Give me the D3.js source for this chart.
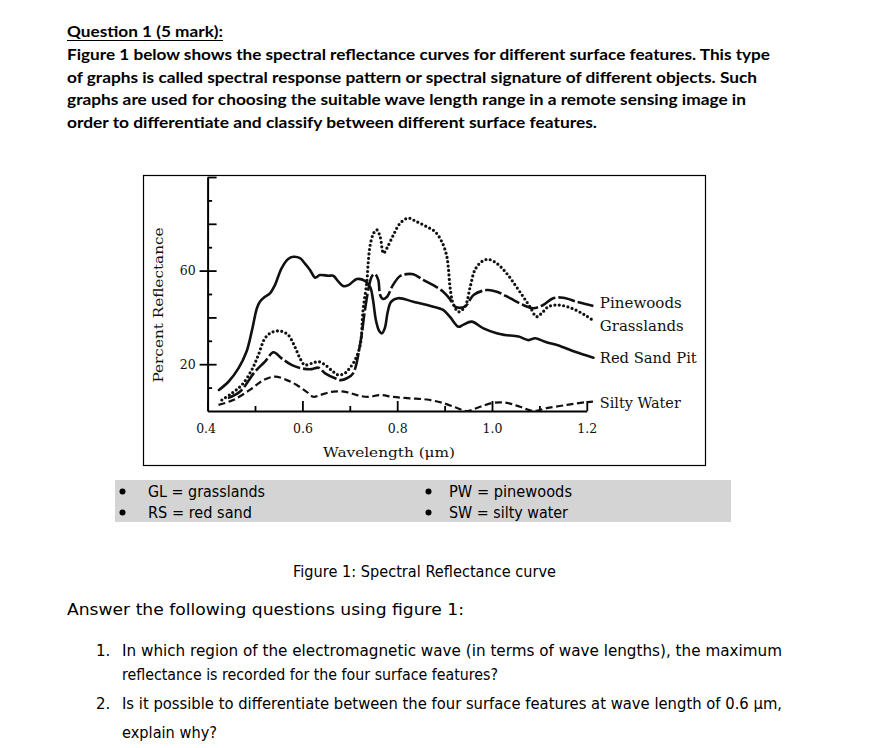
<!DOCTYPE html>
<html><head><meta charset="utf-8">
<script src="https://cdn.jsdelivr.net/npm/d3@7"></script>
<style>body{margin:0;background:#fff}svg{display:block}</style>
</head><body>
<svg id="chart" width="881" height="748"></svg>
<script>
// ---------------- DATA ----------------
const seriesNames = ["Pinewoods", "Grasslands", "Red Sand Pit", "Silty Water"];

const pinewoodsX = [0.443,0.468,0.500,0.521,0.539,0.556,0.577,0.599,0.620,0.634,0.648,0.669,0.681,0.694,0.707,0.722,0.732,0.741,0.747,0.753,0.760,0.764,0.770,0.778,0.791,0.806,0.820,0.834,0.855,0.876,0.897,0.911,0.922,0.943,0.961,0.989,1.010,1.038,1.066,1.087,1.108,1.129,1.150,1.179,1.214];
const pinewoodsY = [5.5,8.2,16.8,21.1,25.1,22.5,19.7,18.2,17.9,18.5,16.1,14.0,13.2,14.0,16.1,28.9,43.2,53.8,57.7,58.5,56.0,49.6,47.9,48.7,53.8,57.7,58.5,58.4,56.0,53.8,51.0,47.9,44.6,44.6,49.6,51.7,51.0,48.2,45.3,43.9,45.3,48.2,48.4,46.7,44.9];

const grasslandsX = [0.430,0.451,0.472,0.493,0.507,0.521,0.535,0.553,0.570,0.584,0.595,0.605,0.620,0.634,0.648,0.665,0.676,0.690,0.700,0.711,0.722,0.728,0.736,0.739,0.743,0.750,0.757,0.764,0.771,0.778,0.792,0.806,0.823,0.841,0.862,0.880,0.894,0.904,0.908,0.911,0.915,0.918,0.929,0.943,0.954,0.964,0.978,0.992,1.010,1.031,1.049,1.066,1.080,1.094,1.105,1.119,1.140,1.168,1.196,1.217];
const grasslandsY = [4.7,7.6,11.1,17.5,23.9,31.1,33.6,34.2,32.5,27.5,22.5,19.7,20.4,21.1,19.7,16.8,15.4,16.2,18.4,21.8,28.2,43.2,55.3,63.8,70.9,75.9,77.4,74.5,67.4,69.5,75.2,80.2,82.4,80.9,78.8,76.6,72.4,66.7,61.0,53.8,48.2,46.0,42.4,44.6,53.1,60.3,63.8,64.8,63.1,58.8,53.8,48.8,44.6,40.3,41.8,44.6,45.3,43.9,41.0,38.2];

const redSandX = [0.424,0.444,0.465,0.482,0.493,0.504,0.510,0.521,0.532,0.542,0.556,0.570,0.581,0.595,0.605,0.616,0.627,0.637,0.655,0.665,0.676,0.686,0.697,0.715,0.732,0.743,0.749,0.755,0.762,0.768,0.774,0.780,0.787,0.802,0.834,0.876,0.897,0.911,0.929,0.939,0.957,0.982,1.010,1.027,1.056,1.077,1.091,1.112,1.147,1.175,1.214];
const redSandY = [9.0,12.5,18.2,25.3,33.9,43.9,46.6,48.8,50.4,53.8,61.0,65.0,65.9,65.3,63.1,60.3,57.0,58.1,57.8,57.8,55.3,53.4,53.8,56.4,55.6,53.0,47.4,38.9,34.2,33.2,35.5,42.3,46.6,48.2,46.7,44.6,43.2,40.3,36.0,36.8,38.2,35.3,33.2,32.5,31.8,30.3,31.1,29.6,27.5,25.3,22.8];

const siltyWaterX = [0.423,0.454,0.489,0.518,0.542,0.567,0.588,0.609,0.623,0.637,0.665,0.693,0.715,0.738,0.764,0.792,0.827,0.862,0.897,0.926,0.947,0.975,1.003,1.031,1.059,1.087,1.115,1.158,1.200,1.213];
const siltyWaterY = [2.6,4.7,9.0,13.2,14.7,13.2,11.1,8.2,6.1,6.8,8.3,8.1,6.8,6.0,6.8,6.0,5.4,4.9,3.4,1.3,0.0,1.8,3.5,3.5,1.8,0.0,1.2,2.6,3.8,4.0];

const xMajorTicks = [0.4, 0.6, 0.8, 1.0, 1.2];
const xMinorTicks = [0.5, 0.7, 0.9, 1.1];
const yLabelTicks = [20, 60];
const yMajorTicks = [20, 40, 60, 80, 100];
const yMinorTicks = [10, 30, 50, 70, 90];

const headerTitle = "Question 1 (5 mark):";
const headerLines = [
  "Figure 1 below shows the spectral reflectance curves for different surface features. This type",
  "of graphs is called spectral response pattern or spectral signature of different objects. Such",
  "graphs are used for choosing the suitable wave length range in a remote sensing image in",
  "order to differentiate and classify between different surface features."
];
const legendLeft = ["GL = grasslands", "RS = red sand"];
const legendRight = ["PW = pinewoods", "SW = silty water"];
const caption = "Figure 1: Spectral Reflectance curve";
const answerIntro = "Answer the following questions using figure 1:";
const questions = [
  ["In which region of the electromagnetic wave (in terms of wave lengths), the maximum",
   "reflectance is recorded for the four surface features?"],
  ["Is it possible to differentiate between the four surface features at wave length of 0.6 µm,",
   "explain why?"]
];

// ---------------- DRAWING ----------------
const svg = d3.select("#chart");
svg.append("rect").attr("width", 881).attr("height", 748).attr("fill", "#fff");

function fitText(sel, w, adjust) {
  sel.attr("textLength", w).attr("lengthAdjust", adjust || "spacingAndGlyphs");
  return sel;
}

// Header
const hdrFont = "Lato, 'Open Sans', sans-serif";
fitText(svg.append("text").attr("x", 67).attr("y", 37)
  .attr("font-family", hdrFont).attr("font-weight", 700).attr("font-size", 15.5)
  .attr("fill", "#000").text(headerTitle), 156);
svg.append("line").attr("x1", 67).attr("x2", 223).attr("y1", 40.5).attr("y2", 40.5)
  .attr("stroke", "#000").attr("stroke-width", 1);
const headerWidths = [703, 690, 679, 530];
const headerBase = [60, 82.5, 105, 127.5];
headerLines.forEach((t, i) => {
  fitText(svg.append("text").attr("x", 67).attr("y", headerBase[i])
    .attr("font-family", hdrFont).attr("font-weight", 700).attr("font-size", 15.5)
    .attr("fill", "#000").text(t), headerWidths[i]);
});

// Chart frame
svg.append("rect").attr("x", 143.5).attr("y", 175.5).attr("width", 562).attr("height", 290)
  .attr("fill", "#fff").attr("stroke", "#000").attr("stroke-width", 1.2);

const x = d3.scaleLinear().domain([0.4, 1.2]).range([207.6, 586.8]);
const y = d3.scaleLinear().domain([0, 100]).range([411, 177]);
const chartFont = "'DejaVu Serif', 'Liberation Serif', serif";

// X axis
const gx = svg.append("g").attr("transform", `translate(0,${y(0)})`);
gx.call(d3.axisBottom(x).tickValues(xMajorTicks).tickSizeInner(-10).tickSizeOuter(0)
  .tickPadding(13).tickFormat(d3.format(".1f")));
const gx2 = svg.append("g").attr("transform", `translate(0,${y(0)})`);
gx2.call(d3.axisBottom(x).tickValues(xMinorTicks).tickSizeInner(-5).tickSizeOuter(0).tickFormat(""));
gx2.select(".domain").remove();

// Y axis
const gy = svg.append("g").attr("transform", `translate(${x(0.4)},0)`);
gy.call(d3.axisLeft(y).tickValues(yLabelTicks).tickSizeInner(8).tickSizeOuter(0).tickPadding(4));
const gy2 = svg.append("g").attr("transform", `translate(${x(0.4)},0)`);
gy2.call(d3.axisRight(y).tickValues(yMajorTicks).tickSizeInner(9).tickSizeOuter(0).tickFormat(""));
gy2.select(".domain").remove();
const gy3 = svg.append("g").attr("transform", `translate(${x(0.4)},0)`);
gy3.call(d3.axisRight(y).tickValues(yMinorTicks).tickSizeInner(4.5).tickSizeOuter(0).tickFormat(""));
gy3.select(".domain").remove();

svg.selectAll(".domain").attr("stroke", "#000").attr("stroke-width", 2);
svg.selectAll(".tick line").attr("stroke", "#000").attr("stroke-width", 1.8);
svg.selectAll(".tick text").attr("font-family", chartFont).attr("font-size", 12.5).attr("fill", "#111");
gx.selectAll(".tick text").attr("dx", (d) => d === 0.4 ? -2 : 0);

// Axis titles
fitText(svg.append("text").attr("transform", "translate(163,305) rotate(-90)")
  .attr("text-anchor", "middle").attr("font-family", chartFont).attr("font-size", 13.5)
  .attr("fill", "#111").text("Percent Reflectance"), 155);
fitText(svg.append("text").attr("x", 389).attr("y", 457)
  .attr("text-anchor", "middle").attr("font-family", chartFont).attr("font-size", 13.5)
  .attr("fill", "#111").text("Wavelength (\u03bcm)"), 132);

// Series
const series = [
  { name: seriesNames[0], xs: pinewoodsX, ys: pinewoodsY, dash: "17,3", w: 2.6, cap: "butt", dy: -2.5, tw: 82 },
  { name: seriesNames[1], xs: grasslandsX, ys: grasslandsY, dash: "0,4.4", w: 3.2, cap: "round", dy: 4, tw: 84 },
  { name: seriesNames[2], xs: redSandX, ys: redSandY, dash: null, w: 2.6, cap: "round", dy: 0, tw: 97 },
  { name: seriesNames[3], xs: siltyWaterX, ys: siltyWaterY, dash: "7,3.5", w: 2.2, cap: "butt", dy: 1, tw: 81 }
];
const line = d3.line().x(d => x(d[0])).y(d => y(d[1])).curve(d3.curveCatmullRom.alpha(0.5));
series.forEach(s => {
  const pts = s.xs.map((v, i) => [v, s.ys[i]]);
  const p = svg.append("path").datum(pts).attr("d", line).attr("fill", "none")
    .attr("stroke", "#111").attr("stroke-width", s.w).attr("stroke-linecap", s.cap)
    .attr("stroke-linejoin", "round");
  if (s.dash) p.attr("stroke-dasharray", s.dash);
  const last = pts[pts.length - 1];
  fitText(svg.append("text").attr("x", x(1.2) + 13).attr("y", y(last[1]) + s.dy)
    .attr("dy", "0.36em").attr("font-family", chartFont).attr("font-size", 14)
    .attr("fill", "#111").text(s.name), s.tw);
});

// Legend box
const lgFont = "'DejaVu Sans', Verdana, sans-serif";
svg.append("rect").attr("x", 115).attr("y", 480).attr("width", 616).attr("height", 42).attr("fill", "#d4d4d4");
const lgBase = [496.5, 517.5];
const lw = [[117, 104], [123, 119]];
[legendLeft, legendRight].forEach((col, c) => {
  const bx = c === 0 ? 122.5 : 428.5, tx = c === 0 ? 148 : 449;
  col.forEach((t, i) => {
    svg.append("circle").attr("cx", bx).attr("cy", lgBase[i] - 5).attr("r", 3).attr("fill", "#000");
    fitText(svg.append("text").attr("x", tx).attr("y", lgBase[i]).attr("font-family", lgFont)
      .attr("font-size", 15).attr("fill", "#000").text(t), lw[c][i]);
  });
});

// Caption and questions
fitText(svg.append("text").attr("x", 293).attr("y", 577).attr("font-family", lgFont)
  .attr("font-size", 15).attr("fill", "#000").text(caption), 263);
fitText(svg.append("text").attr("x", 67).attr("y", 615).attr("font-family", lgFont)
  .attr("font-size", 15).attr("fill", "#000").text(answerIntro), 397);
const qBase = [[656, 680], [709, 738]];
const qW = [[660, 376], [660, 95]];
questions.forEach((q, i) => {
  svg.append("text").attr("x", 96).attr("y", qBase[i][0]).attr("font-family", lgFont)
    .attr("font-size", 15).attr("fill", "#000").text((i + 1) + ".");
  q.forEach((t, j) => {
    fitText(svg.append("text").attr("x", 122).attr("y", qBase[i][j]).attr("font-family", lgFont)
      .attr("font-size", 15).attr("fill", "#000").text(t), qW[i][j]);
  });
});
</script>
</body></html>
